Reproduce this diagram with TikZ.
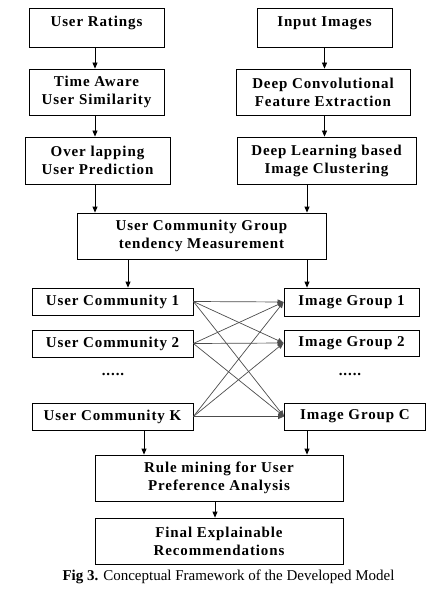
\documentclass[tikz,border=0pt]{standalone}
\usepackage{fontspec}
\setmainfont{Liberation Serif}
\newfontfamily\boxfont[LetterSpace=6]{Liberation Serif}
\usepackage{tikz}
\usetikzlibrary{arrows.meta}

\begin{document}
\begin{tikzpicture}[x=1pt,y=-1pt,>={Triangle[length=6pt,width=5pt]},
  box/.style={rectangle,draw,line width=0.8pt,align=center,inner sep=0pt,
    font=\boxfont\bfseries\fontsize{15}{18}\selectfont},
  arr/.style={->,line width=0.8pt},
  cross/.style={->,line width=0.7pt,black!70}]
\useasboundingbox (0,0) rectangle (444,596);

% Les deux colonnes du haut
\node [box,minimum width=135pt,text height=19pt,text depth=20pt] (ratings) at (96.5,27.5) {User Ratings};
\node [box,minimum width=135pt,text height=19pt,text depth=20pt] (images) at (324.5,27.5) {Input Images};
\node [box,minimum width=135pt,minimum height=46pt] (timeaware) at (96.5,92) {Time Aware\\User Similarity};
\node [box,minimum width=174pt,minimum height=46pt] (deepconv) at (323,92) {Deep Convolutional\\Feature Extraction};
\node [box,minimum width=145pt,minimum height=47pt] (overlap) at (97.5,160.5) {Over lapping\\User Prediction};
\node [box,minimum width=179pt,minimum height=47pt] (deeplearn) at (326.5,160.5) {Deep Learning based\\Image Clustering};
\node [box,minimum width=249pt,minimum height=46pt] (community) at (201.5,236) {User Community Group\\tendency Measurement};

% Communautes et groupes d'images
\node [box,minimum width=161pt,minimum height=27pt] (uc1) at (112.5,301.5) {User Community 1};
\node [box,minimum width=161pt,minimum height=27pt] (uc2) at (112.5,343.5) {User Community 2};
\node [font=\boxfont\bfseries\fontsize{15}{18}\selectfont] (ucdots) at (113,374) {.....};
\node [box,minimum width=161pt,minimum height=27pt] (uck) at (112.5,416.5) {User Community K};
\node [box,minimum width=135pt,minimum height=28pt] (ig1) at (351.5,302) {Image Group 1};
\node [box,minimum width=135pt,minimum height=26pt] (ig2) at (351.5,343) {Image Group 2};
\node [font=\boxfont\bfseries\fontsize{15}{18}\selectfont] (igdots) at (350,374) {.....};
\node [box,minimum width=141pt,minimum height=27pt] (igc) at (355,416.5) {Image Group C};

% Le bas
\node [box,minimum width=248pt,minimum height=46pt] (rule) at (219,478) {Rule mining for User\\Preference Analysis};
\node [box,minimum width=248pt,minimum height=46pt] (final) at (219,541) {Final Explainable\\Recommendations};
\node [font=\fontsize{15}{18}\selectfont] (caption) at (228.5,577) {\textbf{Fig 3.} Conceptual Framework of the Developed Model};

\coordinate (lx) at (95,0);
\coordinate (rx) at (307,0);
\coordinate (cx) at (128,0);
\coordinate (kx) at (144,0);

% Dessiner les chemins
\draw[arr] (ratings.south -| lx) -- (timeaware.north -| lx);
\draw[arr] (timeaware.south -| lx) -- (overlap.north -| lx);
\draw[arr] (overlap.south -| lx) -- (community.north -| lx);
\draw[arr] (images.south) -- (images.south |- deepconv.north);
\draw[arr] (images.south |- deepconv.south) -- (images.south |- deeplearn.north);
\draw[arr] (deeplearn.south -| rx) -- (community.north -| rx);
\draw[arr] (community.south -| cx) -- (uc1.north -| cx);
\draw[arr] (community.south -| rx) -- (ig1.north -| rx);
\foreach \u in {uc1,uc2,uck}
  \foreach \g in {ig1,ig2,igc}
    \draw[cross] (\u.east) -- (\g.west);
\draw[arr] (uck.south -| kx) -- (rule.north -| kx);
\draw[arr] (igc.south -| rx) -- (rule.north -| rx);
\draw[arr] (rule.south -| 215,0) -- (final.north -| 215,0);
\end{tikzpicture}
\end{document}
